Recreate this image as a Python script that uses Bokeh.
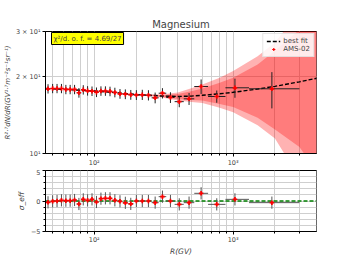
from bokeh.plotting import figure
from bokeh.layouts import column
from bokeh.models import (ColumnDataSource, FixedTicker, Label, Legend, LegendItem,
                          Range1d, Span)
from bokeh.embed import file_html
from bokeh.resources import INLINE

# ---------------- data ----------------
rig = [46.5, 50.2, 54.0, 58.1, 62.5, 67.1, 72.2, 77.6, 83.4, 89.6, 96.4, 103.8,
       111.8, 120.4, 129.9, 140.8, 153.3, 167.5, 183.3, 201.1, 221.8, 245.6,
       274.5, 309.8, 353.7, 409.4, 481.5, 588.0, 762.0, 1030.0, 1900.0]
rig_lo = [45.1, 48.5, 52.2, 56.1, 60.3, 64.8, 69.7, 74.9, 80.5, 86.5, 93.0, 100.0,
          108.0, 116.0, 125.0, 135.0, 147.0, 160.0, 175.0, 192.0, 211.0, 233.0,
          259.0, 291.0, 330.0, 379.0, 441.0, 525.0, 660.0, 880.0, 1300.0]
rig_hi = [48.5, 52.2, 56.1, 60.3, 64.8, 69.7, 74.9, 80.5, 86.5, 93.0, 100.0, 108.0,
          116.0, 125.0, 135.0, 147.0, 160.0, 175.0, 192.0, 211.0, 233.0, 259.0,
          291.0, 330.0, 379.0, 441.0, 525.0, 660.0, 880.0, 1300.0, 3000.0]
flux = [17.91, 17.96, 17.96, 17.96, 17.80, 17.80, 17.80, 17.28, 17.75, 17.59,
        17.53, 17.37, 17.56, 17.56, 17.50, 17.33, 17.12, 17.06, 16.97, 16.94,
        16.97, 16.90, 16.51, 17.21, 16.56, 15.95, 16.36, 18.28, 16.71, 18.07, 17.91]
flux_err = [0.75, 0.75, 0.75, 0.75, 0.75, 0.75, 0.75, 0.75, 0.75, 0.75, 0.75, 0.75,
            0.75, 0.75, 0.75, 0.75, 0.75, 0.75, 0.75, 0.75, 0.78, 0.78, 0.8, 0.8,
            0.8, 0.78, 0.88, 1.2, 0.92, 1.55, 2.9]
resid = [-0.22, -0.05, 0.0, 0.11, 0.05, 0.05, 0.16, -0.49, 0.27, 0.11, 0.27, -0.16,
         0.38, 0.44, 0.44, 0.11, -0.05, -0.30, -0.47, 0.0, 0.0, 0.0, -0.27, 0.71,
         0.0, -0.55, -0.27, 1.26, -0.55, 0.27, -0.27]
resid_err = [1.0] * len(resid)

fit_r = [45, 70, 100, 150, 200, 300, 400, 500, 600, 800, 1000, 1500, 2000, 3000, 4000]
fit_v = [17.96, 17.75, 17.56, 17.25, 17.01, 16.79, 16.71, 16.77, 16.89, 17.12,
         17.35, 17.87, 18.31, 19.07, 19.70]
band1_up = [17.97, 17.76, 17.57, 17.27, 17.06, 16.90, 17.08, 17.50, 17.95, 18.90,
            19.80, 22.30, 25.20, 30.50, 38.00]
band1_lo = [17.95, 17.74, 17.55, 17.23, 16.96, 16.68, 16.34, 16.20, 16.10, 15.60,
            15.20, 13.80, 12.40, 10.60, 8.50]
band2_up = [17.98, 17.77, 17.58, 17.29, 17.11, 17.00, 17.33, 18.00, 18.60, 19.80,
            21.00, 24.00, 27.20, 36.00, 48.00]
band2_lo = [17.94, 17.73, 17.54, 17.21, 16.91, 16.58, 16.12, 15.90, 15.75, 15.10,
            14.50, 12.90, 11.45, 8.00, 6.00]

x_major = [100, 1000]
x_minor = [50, 60, 70, 80, 90, 200, 300, 400, 500, 600, 700, 800, 900, 2000, 3000, 4000]
x_labels = {100: "10²", 1000: "10³"}
y_ticks = [10, 20, 30]
y_labels = {10: "10¹", 20: "2 × 10¹", 30: "3 × 10¹"}
r_ticks = [-5, 0, 5]
r_minor = [-4, -3, -2, -1, 1, 2, 3, 4]

chi2_text = "χ²/d. o. f. = 4.69/27"
y1_title = "R²·⁷dN/dR(GV¹·⁷m⁻²s⁻¹sr⁻¹)"

# ---------------- styling helpers ----------------
FONT = "DejaVu Sans"
GRID = "#cfcfcf"


def style_axes(p):
    for ax in (p.xaxis[0], p.yaxis[0]):
        ax.axis_line_color = "black"
        ax.major_tick_line_color = "black"
        ax.minor_tick_line_color = "black"
        ax.major_tick_in = 0
        ax.major_tick_out = 3
        ax.minor_tick_in = 0
        ax.minor_tick_out = 2
        ax.major_label_text_font = FONT
        ax.major_label_text_font_size = "6.5px"
        ax.major_label_standoff = 2
        ax.axis_label_text_font = FONT
        ax.axis_label_text_font_size = "7.5px"
        ax.axis_label_text_font_style = "italic"
        ax.axis_label_standoff = 2
    p.outline_line_color = "black"
    p.outline_line_width = 1
    p.xgrid.grid_line_color = GRID
    p.xgrid.minor_grid_line_color = GRID
    p.ygrid.grid_line_color = GRID
    p.background_fill_color = "white"
    p.border_fill_color = "white"


x_ticker = FixedTicker(ticks=x_major, minor_ticks=x_minor)

# ---------------- main panel ----------------
p1 = figure(frame_width=271, frame_height=122, x_axis_type="log", y_axis_type="log",
            x_range=Range1d(44.6, 3980), y_range=Range1d(10, 30),
            output_backend="svg", toolbar_location=None,
            min_border_left=43, min_border_right=10, min_border_top=31,
            min_border_bottom=0)
p1.title.text = "Magnesium"
p1.title.align = "center"
p1.title.text_font = FONT
p1.title.text_font_size = "10px"
p1.title.text_font_style = "normal"
p1.title.standoff = 4

p1.varea(x=fit_r, y1=band2_lo, y2=band2_up, fill_color="red", fill_alpha=0.3)
p1.varea(x=fit_r, y1=band1_lo, y2=band1_up, fill_color="red", fill_alpha=0.3)
fit_line = p1.line(fit_r, fit_v, line_color="black", line_dash="4 2", line_width=1.4)

src = ColumnDataSource(dict(
    r=rig, lo=rig_lo, hi=rig_hi, f=flux,
    fl=[f - e for f, e in zip(flux, flux_err)],
    fh=[f + e for f, e in zip(flux, flux_err)],
    res=resid,
    rl=[v - e for v, e in zip(resid, resid_err)],
    rh=[v + e for v, e in zip(resid, resid_err)],
))
p1.segment(x0="lo", y0="f", x1="hi", y1="f", source=src, line_color="#222222", line_width=1)
p1.segment(x0="r", y0="fl", x1="r", y1="fh", source=src, line_color="#222222", line_width=1)
pts = p1.scatter(x="r", y="f", source=src, marker="plus", size=4.5, fill_color="red",
                 line_color="red", line_width=0)

p1.xaxis[0].ticker = x_ticker
p1.xaxis[0].major_label_overrides = x_labels
p1.yaxis[0].ticker = FixedTicker(ticks=y_ticks, minor_ticks=[])
p1.yaxis[0].major_label_overrides = y_labels
style_axes(p1)
p1.yaxis[0].axis_label = y1_title
p1.yaxis[0].axis_label_text_font_size = "7px"
p1.yaxis[0].axis_label_standoff = 1
p1.ygrid.ticker = FixedTicker(ticks=y_ticks, minor_ticks=[])

legend = Legend(items=[LegendItem(label="best fit", renderers=[fit_line]),
                       LegendItem(label="AMS-02", renderers=[pts])],
                location="top_right", label_text_font=FONT, label_text_font_size="7px",
                glyph_width=14, glyph_height=8, label_height=8, spacing=0,
                padding=3, margin=2, border_line_color="#cccccc",
                background_fill_alpha=0.85, label_standoff=3)
p1.add_layout(legend)

p1.add_layout(Label(x=6, y=109, x_units="screen", y_units="screen", text=chi2_text,
                    text_font=FONT, text_font_size="7px", background_fill_color="yellow",
                    border_line_color="black", border_line_width=1, padding=2))

# ---------------- residual panel ----------------
p2 = figure(frame_width=271, frame_height=61, x_axis_type="log",
            x_range=p1.x_range, y_range=Range1d(-5, 5),
            output_backend="svg", toolbar_location=None,
            min_border_left=43, min_border_right=10, min_border_top=1,
            min_border_bottom=0)
p2.add_layout(Span(location=0, dimension="width", line_color="green",
                   line_dash="4 2", line_width=1.5, level="underlay"))
p2.segment(x0="lo", y0="res", x1="hi", y1="res", source=src, line_color="#555555", line_width=1)
p2.segment(x0="r", y0="rl", x1="r", y1="rh", source=src, line_color="#555555", line_width=1)
p2.scatter(x="r", y="res", source=src, marker="plus", size=4.5, fill_color="red",
           line_color="red", line_width=0)
p2.xaxis[0].ticker = x_ticker
p2.xaxis[0].major_label_overrides = x_labels
p2.xaxis[0].axis_label = "R(GV)"
p2.yaxis[0].ticker = FixedTicker(ticks=r_ticks, minor_ticks=r_minor)
p2.yaxis[0].axis_label = "σ_eff"
style_axes(p2)
p2.xaxis[0].major_label_standoff = 1
p2.xaxis[0].axis_label_standoff = 0
p2.ygrid.minor_grid_line_color = GRID

layout = column(p1, p2, spacing=0)
open("out.html", "w").write(file_html(layout, INLINE))
